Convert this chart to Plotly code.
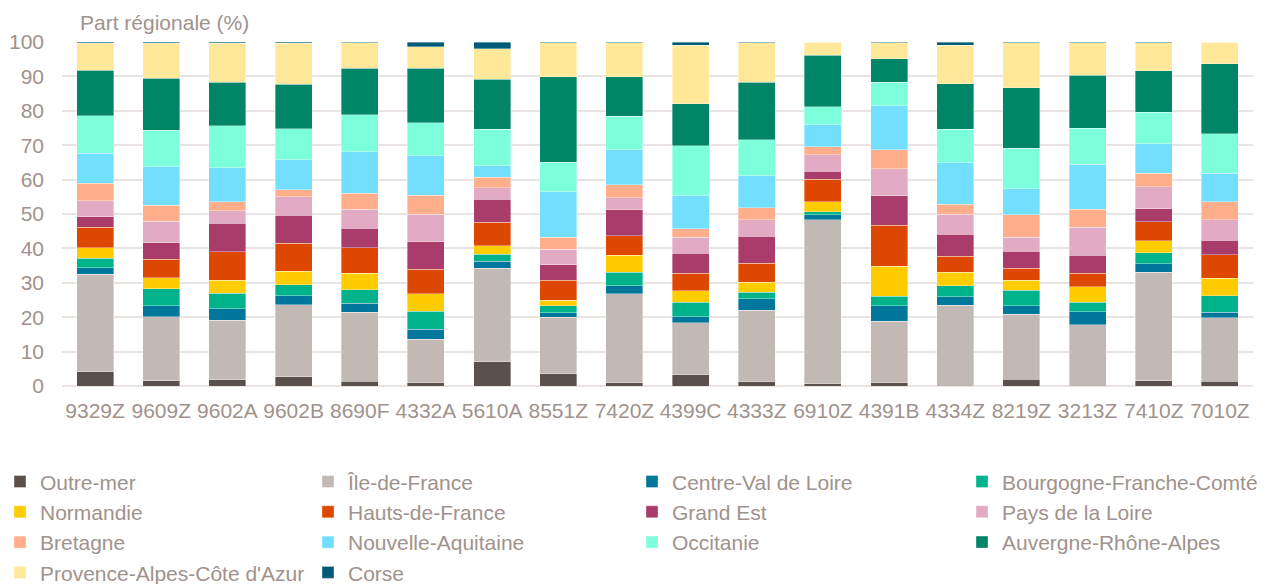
import plotly.graph_objects as go

categories = ["9329Z", "9609Z", "9602A", "9602B", "8690F", "4332A", "5610A", "8551Z", "7420Z",
              "4399C", "4333Z", "6910Z", "4391B", "4334Z", "8219Z", "3213Z", "7410Z", "7010Z"]

outre_mer = [4.2, 1.6, 1.8, 2.7, 1.4, 1.0, 7.0, 3.5, 1.0, 3.2, 1.2, 0.6, 1.0, 0.2, 2.0, 0.2, 1.5, 1.4]
ile_de_france = [28.3, 18.5, 17.3, 20.9, 20.1, 12.6, 27.2, 16.5, 25.8, 15.2, 20.8, 47.7, 17.8, 23.3, 18.8, 17.6, 31.6, 18.4]
centre_val_de_loire = [1.9, 3.3, 3.3, 2.7, 2.6, 2.9, 2.1, 1.3, 2.3, 1.8, 3.4, 1.5, 4.6, 2.5, 2.6, 3.8, 2.5, 1.7]
bourgogne_fc = [2.8, 4.8, 4.6, 3.2, 3.9, 5.3, 2.0, 2.0, 4.0, 4.1, 1.9, 0.9, 2.7, 3.1, 4.4, 2.8, 3.2, 4.8]
normandie = [3.0, 3.2, 3.8, 3.9, 4.8, 5.0, 2.5, 1.6, 4.9, 3.4, 2.8, 2.9, 8.7, 4.0, 2.9, 4.5, 3.4, 5.0]
hauts_de_france = [5.9, 5.4, 8.3, 8.1, 7.4, 7.1, 6.8, 5.8, 5.7, 5.1, 5.6, 6.5, 11.9, 4.6, 3.6, 3.9, 5.6, 6.9]
grand_est = [3.1, 4.8, 8.2, 8.2, 5.6, 8.1, 6.7, 4.6, 7.5, 5.8, 7.9, 2.3, 8.6, 6.4, 4.9, 5.2, 3.7, 4.2]
pays_de_la_loire = [4.7, 6.3, 3.7, 5.3, 5.6, 7.9, 3.4, 4.4, 3.5, 4.6, 4.8, 4.8, 7.9, 5.8, 4.1, 8.1, 6.4, 6.0]
bretagne = [5.1, 4.7, 2.5, 2.1, 4.6, 5.5, 3.0, 3.5, 3.8, 2.5, 3.4, 2.4, 5.5, 3.0, 6.5, 5.3, 3.9, 5.2]
nouvelle_aquitaine = [8.7, 11.1, 10.0, 8.7, 12.1, 11.5, 3.4, 13.3, 10.2, 9.6, 9.3, 6.4, 12.7, 12.0, 7.6, 13.1, 8.6, 8.2]
occitanie = [10.9, 10.7, 12.1, 9.0, 10.7, 9.7, 10.6, 8.6, 9.7, 14.6, 10.5, 5.2, 6.9, 9.8, 11.7, 10.4, 9.2, 11.6]
auvergne_ra = [13.2, 15.1, 12.7, 12.9, 13.5, 15.8, 14.5, 24.8, 11.5, 12.2, 16.7, 14.9, 6.8, 13.2, 17.6, 15.5, 12.0, 20.3]
paca = [7.9, 10.2, 11.4, 11.9, 7.5, 6.2, 8.8, 9.9, 9.9, 16.9, 11.5, 3.9, 4.7, 11.2, 13.1, 9.4, 8.2, 6.3]
corse = [0.3, 0.3, 0.3, 0.4, 0.2, 1.4, 2.0, 0.2, 0.2, 1.0, 0.2, 0.0, 0.2, 0.9, 0.2, 0.2, 0.2, 0.0]

series = [
    ("Outre-mer", outre_mer, "#5c504c"),
    ("Île-de-France", ile_de_france, "#c2b9b4"),
    ("Centre-Val de Loire", centre_val_de_loire, "#00779b"),
    ("Bourgogne-Franche-Comté", bourgogne_fc, "#00b38a"),
    ("Normandie", normandie, "#ffcc00"),
    ("Hauts-de-France", hauts_de_france, "#dd4700"),
    ("Grand Est", grand_est, "#a93c6a"),
    ("Pays de la Loire", pays_de_la_loire, "#e2abc3"),
    ("Bretagne", bretagne, "#ffae8b"),
    ("Nouvelle-Aquitaine", nouvelle_aquitaine, "#72dfff"),
    ("Occitanie", occitanie, "#7effdc"),
    ("Auvergne-Rhône-Alpes", auvergne_ra, "#008566"),
    ("Provence-Alpes-Côte d'Azur", paca, "#ffe899"),
    ("Corse", corse, "#005b76"),
]

text_color = "#a0928c"
font_family = "Liberation Sans, Arial, sans-serif"
fs = 21
W, H = 1265, 584

legend_names = ["legend", "legend2", "legend3", "legend4"]
legend_x_px = [0, 308, 632, 962]

fig = go.Figure()
for i, (name, vals, color) in enumerate(series):
    fig.add_trace(go.Bar(
        x=categories, y=vals, name=name,
        legend=legend_names[i % 4],
        marker=dict(color=color, line=dict(color="rgba(255,255,255,0.6)", width=0.6)),
    ))

legend_common = dict(
    orientation="v", traceorder="normal",
    xref="container", yref="container",
    xanchor="left", y=0.21, yanchor="top",
    font=dict(size=fs, color=text_color),
    bgcolor="rgba(0,0,0,0)",
    itemclick=False, itemdoubleclick=False,
)

layout_legends = {}
for ln, xp in zip(legend_names, legend_x_px):
    layout_legends[ln] = dict(legend_common, x=xp / W)

fig.update_layout(
    barmode="stack",
    bargap=0.44,
    width=W, height=H,
    margin=dict(l=62, r=12, t=42, b=198, autoexpand=False),
    plot_bgcolor="white", paper_bgcolor="white",
    font=dict(family=font_family, size=fs, color=text_color),
    showlegend=True,
    xaxis=dict(
        type="category", range=[-0.5, 17.5],
        showgrid=False, showline=False, ticks="",
        tickfont=dict(size=fs, color=text_color),
        ticklabelstandoff=10,
    ),
    yaxis=dict(
        range=[0, 100], dtick=10,
        showgrid=True, gridcolor="#e9e3e3", gridwidth=1.5,
        zeroline=True, zerolinecolor="#e9e3e3", zerolinewidth=1.5,
        showline=False, ticks="",
        tickfont=dict(size=fs, color=text_color),
        ticklabelstandoff=17,
    ),
    annotations=[dict(
        text="Part régionale (%)", xref="paper", yref="paper",
        x=16 / 1191, y=1.0, xanchor="left", yanchor="bottom", yshift=6,
        showarrow=False, font=dict(size=fs, color=text_color),
    )],
    **layout_legends,
)

fig.write_html("out.html", config={"displayModeBar": False},
               post_script="document.body.style.margin='0';")
